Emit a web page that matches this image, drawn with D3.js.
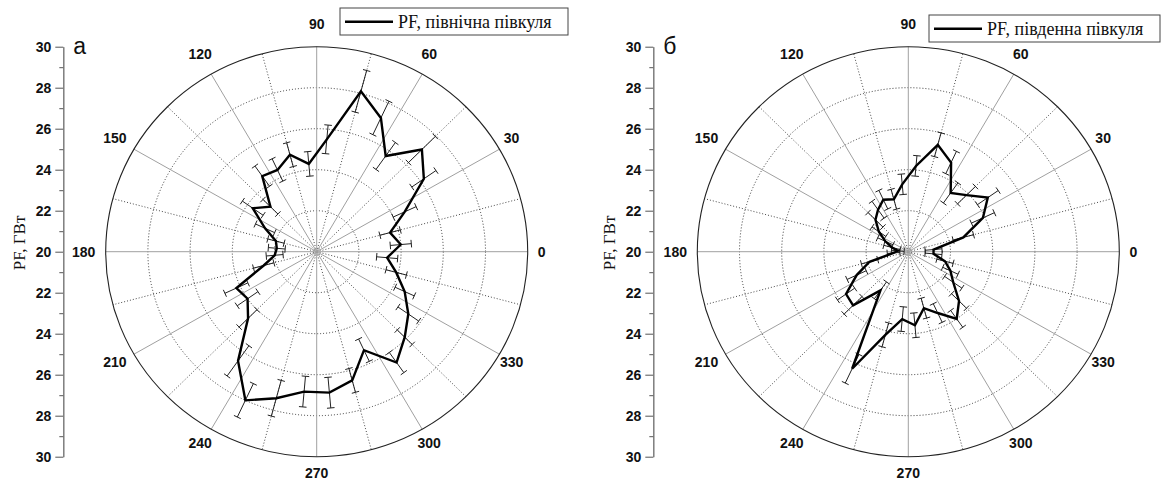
<!DOCTYPE html>
<html>
<head>
<meta charset="utf-8">
<script src="https://cdn.jsdelivr.net/npm/d3@7"></script>
<style>
  body { margin: 0; background: #fff; }
  svg { display: block; }
</style>
</head>
<body>
<svg id="chart" width="1163" height="482"></svg>
<script>
// Direction of each sector, degrees (0 = right, counter-clockwise)
const angles = [5, 15, 25, 35, 45, 55, 65, 75, 85, 95, 105, 115, 125, 135, 145, 155, 165, 175,
                185, 195, 205, 215, 225, 235, 245, 255, 265, 275, 285, 295, 305, 315, 325, 335, 345, 355];

// PF, northern hemisphere (GW) and its spread
const northValues = [24.0, 23.6, 24.6, 26.2, 27.05, 25.7, 27.2, 28.1, 25.5, 24.3, 24.9, 24.4, 24.5, 23.1, 23.7, 22.7, 22.0, 21.9,
                     22.0, 22.6, 24.2, 24.0, 24.6, 26.5, 28.0, 27.4, 26.85, 26.9, 26.5, 25.3, 26.6, 25.9, 25.3, 24.6, 23.9, 23.35];
const northErrors = [0.5, 0.5, 0.6, 0.7, 0.9, 0.8, 0.9, 1.05, 0.7, 0.6, 0.6, 0.6, 0.6, 0.5, 0.6, 0.5, 0.4, 0.4,
                     0.4, 0.5, 0.6, 0.6, 0.6, 0.9, 0.9, 0.9, 0.75, 0.75, 0.6, 0.6, 0.6, 0.5, 0.6, 0.5, 0.5, 0.5];

// PF, southern hemisphere (GW) and its spread
const southValues = [21.2, 22.7, 23.9, 24.6, 23.9, 23.5, 24.8, 25.4, 24.2, 23.3, 22.65, 22.8, 22.5, 22.2, 21.7, 21.2, 20.8, 20.5,
                     20.7, 21.9, 22.7, 23.6, 23.7, 22.3, 26.3, 24.2, 23.3, 23.6, 22.85, 23.3, 24.0, 23.4, 22.6, 22.2, 21.8, 21.2];
const southErrors = [0.4, 0.5, 0.6, 0.6, 0.6, 0.6, 0.6, 0.6, 0.5, 0.5, 0.5, 0.5, 0.5, 0.5, 0.4, 0.4, 0.4, 0.3,
                     0.3, 0.4, 0.5, 0.5, 0.6, 0.5, 0.77, 0.6, 0.6, 0.6, 0.5, 0.5, 0.5, 0.5, 0.5, 0.4, 0.4, 0.4];

// Radial axis ticks and angular labels
const radialMajor = [20, 22, 24, 26, 28, 30];
const radialMinor = [21, 23, 25, 27, 29];
const ringValues = [22, 24, 26, 28];
const angleLabels = [0, 30, 60, 90, 120, 150, 180, 210, 240, 270, 300, 330];
const angleMinor = [15, 45, 75, 105, 135, 165, 195, 225, 255, 285, 315, 345];

const panels = [
  { letter: "а", legend: "PF, північна півкуля", values: northValues, errors: northErrors,
    cx: 316.7, axisX: 63.3, titleX: 19, legendX: 340, legendY: 8, legendW: 228 },
  { letter: "б", legend: "PF, південна півкуля", values: southValues, errors: southErrors,
    cx: 908.3, axisX: 653.3, titleX: 609, legendX: 929, legendY: 15, legendW: 231 }
];

const cy = 251.7, rx = 211, ry = 205;
const rScale = d3.scaleLinear().domain([20, 30]).range([0, 1]);
const rad = d => d * Math.PI / 180;

const svg = d3.select("#chart");
const sansBold = "'Liberation Sans', Arial, sans-serif";
const serif = "'Liberation Serif', 'Times New Roman', serif";

panels.forEach(p => {
  const g = svg.append("g");
  const px = (v, a) => p.cx + rx * rScale(v) * Math.cos(rad(a));
  const py = (v, a) => cy - ry * rScale(v) * Math.sin(rad(a));

  // dotted rings
  g.selectAll(".ring").data(ringValues).join("ellipse")
    .attr("cx", p.cx).attr("cy", cy)
    .attr("rx", v => rx * rScale(v)).attr("ry", v => ry * rScale(v))
    .attr("fill", "none").attr("stroke", "#222").attr("stroke-width", 0.9)
    .attr("stroke-dasharray", "1,2");

  // dotted spokes
  g.selectAll(".spokeMinor").data(angleMinor).join("line")
    .attr("x1", p.cx).attr("y1", cy)
    .attr("x2", a => px(30, a)).attr("y2", a => py(30, a))
    .attr("stroke", "#333").attr("stroke-width", 0.9).attr("stroke-dasharray", "1,2");

  // solid spokes
  g.selectAll(".spoke").data(angleLabels).join("line")
    .attr("x1", p.cx).attr("y1", cy)
    .attr("x2", a => px(30, a)).attr("y2", a => py(30, a))
    .attr("stroke", "#a0a0a0").attr("stroke-width", 1);

  // outer boundary
  g.append("ellipse")
    .attr("cx", p.cx).attr("cy", cy).attr("rx", rx).attr("ry", ry)
    .attr("fill", "none").attr("stroke", "#222").attr("stroke-width", 1.1);

  // angle labels
  g.selectAll(".alab").data(angleLabels).join("text")
    .attr("x", a => {
      const c = Math.cos(rad(a));
      const off = c > 0.01 ? 14 * c : (c < -0.01 ? 22 * c : 0);
      return px(30, a) + off;
    })
    .attr("y", a => {
      const s = Math.sin(rad(a));
      const off = s > 0 ? -23 * s : -16 * s;
      return py(30, a) + off;
    })
    .attr("dy", "0.36em")
    .attr("text-anchor", "middle")
    .attr("font-family", sansBold).attr("font-weight", "bold").attr("font-size", 14)
    .attr("fill", "#111")
    .text(a => a);

  // error bars (radial, with caps)
  const pts = angles.map((a, i) => ({ a, v: p.values[i], e: p.errors[i] }));
  const eb = g.append("g").attr("stroke", "#222").attr("stroke-width", 1).attr("fill", "none");
  pts.forEach(d => {
    const x1 = px(d.v - d.e, d.a), y1 = py(d.v - d.e, d.a);
    const x2 = px(d.v + d.e, d.a), y2 = py(d.v + d.e, d.a);
    eb.append("line").attr("x1", x1).attr("y1", y1).attr("x2", x2).attr("y2", y2);
    const dx = x2 - x1, dy = y2 - y1, len = Math.hypot(dx, dy) || 1;
    const nx = -dy / len * 3.8, ny = dx / len * 3.8;
    [[x1, y1], [x2, y2]].forEach(([x, y]) => {
      eb.append("line").attr("x1", x - nx).attr("y1", y - ny).attr("x2", x + nx).attr("y2", y + ny);
    });
  });

  // data polygon
  const line = d3.line()
    .x(d => px(d.v, d.a)).y(d => py(d.v, d.a))
    .curve(d3.curveLinearClosed);
  g.append("path").datum(pts)
    .attr("d", line)
    .attr("fill", "none").attr("stroke", "#000").attr("stroke-width", 2.4)
    .attr("stroke-linejoin", "miter");

  // radial value axis on the left (upper and lower halves)
  const yTop = d3.scaleLinear().domain([20, 30]).range([cy, cy - ry]);
  const yBot = d3.scaleLinear().domain([20, 30]).range([cy, cy + ry]);
  const ax = g.append("g").attr("transform", `translate(${p.axisX},0)`);
  [yTop, yBot].forEach((sc, k) => {
    const major = ax.append("g").call(
      d3.axisLeft(sc).tickValues(k === 0 ? radialMajor : radialMajor.slice(1))
        .tickSize(8).tickSizeOuter(0).tickPadding(4).tickFormat(d3.format("d")));
    const minor = ax.append("g").call(
      d3.axisLeft(sc).tickValues(radialMinor).tickSize(4).tickSizeOuter(0).tickFormat(""));
    [major, minor].forEach(s => {
      s.select(".domain").attr("stroke", "#777");
      s.selectAll(".tick line").attr("stroke", "#555");
    });
    major.selectAll("text")
      .attr("font-family", sansBold).attr("font-weight", "bold").attr("font-size", 14)
      .attr("fill", "#111");
  });

  // axis title
  g.append("text")
    .attr("transform", `translate(${p.titleX},243) rotate(-90)`)
    .attr("text-anchor", "middle").attr("dy", "0.35em")
    .attr("font-family", serif).attr("font-size", 17).attr("fill", "#111")
    .text("PF, ГВт");

  // panel letter
  g.append("text")
    .attr("x", p.axisX + 10).attr("y", 54)
    .attr("font-family", "'Liberation Sans', Arial, sans-serif").attr("font-size", 23)
    .attr("fill", "#111")
    .text(p.letter);

  // legend
  const lg = g.append("g").attr("transform", `translate(${p.legendX},${p.legendY})`);
  lg.append("rect").attr("width", p.legendW).attr("height", 27)
    .attr("fill", "#fff").attr("stroke", "#444").attr("stroke-width", 1);
  lg.append("line").attr("x1", 5).attr("x2", 53).attr("y1", 13.7).attr("y2", 13.7)
    .attr("stroke", "#000").attr("stroke-width", 2.4);
  lg.append("text").attr("x", 58).attr("y", 19.5)
    .attr("font-family", serif).attr("font-size", 18).attr("fill", "#111")
    .text(p.legend);
});
</script>
</body>
</html>
